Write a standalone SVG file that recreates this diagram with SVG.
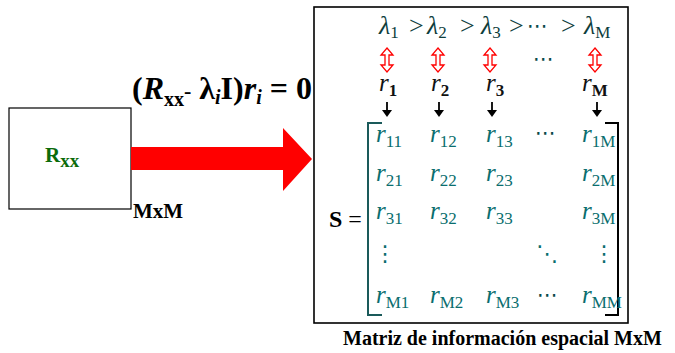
<svg xmlns="http://www.w3.org/2000/svg" width="675" height="353" viewBox="0 0 675 353">
<style>
text{font-family:"Liberation Serif","Times New Roman",serif;}
.b{font-weight:bold;}
.it{font-style:italic;}
.lam{fill:#0d3d3d;font-size:26px;}
.lsub{font-size:17px;}
.rr{fill:#111;font-size:25px;font-style:italic;}
.rsub{font-size:17px;font-weight:bold;font-style:normal;}
.m{fill:#0a6e6e;font-size:25px;font-style:italic;}
.msub{font-size:17px;font-style:normal;}
.dots{font-family:"DejaVu Sans",sans-serif;fill:#0a4a4a;}
.dd{fill:#0a6e6e;}
</style>
<defs>
<path id="dbl" d="M0,-12 L6,-5 L2,-5 L2,5 L6,5 L0,12 L-6,5 L-2,5 L-2,-5 L-6,-5 Z" fill="#fff" stroke="#ff0000" stroke-width="1.3"/>
<g id="down"><line x1="0" y1="0" x2="0" y2="9" stroke="#000" stroke-width="1.8"/><path d="M-5,8 L5,8 L0,15 Z" fill="#000"/></g>
</defs>

<g id="rxx-box">
<rect x="9" y="108" width="122" height="101" fill="#fff" stroke="#000" stroke-width="1.2"/>
<text x="45" y="162" class="b" font-size="21" fill="#0b6b0b">R<tspan font-size="19" dy="5">xx</tspan></text>
<text x="133" y="218" class="b" font-size="21" fill="#000">MxM</text>
</g>

<g id="connectors">
<polygon points="131,147 283,147 283,128 312,159 283,191 283,170 131,170" fill="#ff0000"/>
<text x="132" y="99" class="b" font-size="32" fill="#000">(<tspan class="it">R</tspan><tspan font-size="20" dy="7">xx</tspan><tspan font-size="22" dy="-8">-</tspan><tspan dy="1"> λ</tspan><tspan class="it" font-size="20" dy="5">i</tspan><tspan dy="-5">I)</tspan><tspan class="it">r</tspan><tspan class="it" font-size="20" dy="5">i</tspan><tspan dy="-5"> = 0</tspan></text>
</g>

<g id="matrix-frame">
<rect x="314" y="7" width="314" height="316" fill="#fff" stroke="#000" stroke-width="1.6"/>

<g id="lambda-row" class="lam">
<text x="379" y="34" class="it lam">λ<tspan class="lsub" font-style="normal" dy="4">1</tspan></text>
<text x="409" y="34" class="lam">&gt;</text>
<text x="427" y="34" class="it lam">λ<tspan class="lsub" font-style="normal" dy="4">2</tspan></text>
<text x="460" y="34" class="lam">&gt;</text>
<text x="481" y="34" class="it lam">λ<tspan class="lsub" font-style="normal" dy="4">3</tspan></text>
<text x="509" y="34" class="lam">&gt;</text>
<text x="527" y="33" class="dots" font-size="21">⋯</text>
<text x="561" y="34" class="lam">&gt;</text>
<text x="584" y="34" class="it lam">λ<tspan class="lsub" font-style="normal" dy="4">M</tspan></text>
</g>

<g id="double-arrows">
<use href="#dbl" x="387" y="60"/>
<use href="#dbl" x="438" y="60"/>
<use href="#dbl" x="490" y="60"/>
<use href="#dbl" x="595" y="60"/>
<text x="533" y="66" class="dots" font-size="21">⋯</text>
</g>

<g id="eigvec-row">
<text x="379" y="91" class="rr">r<tspan class="rsub" dy="5">1</tspan></text>
<text x="431" y="91" class="rr">r<tspan class="rsub" dy="5">2</tspan></text>
<text x="486" y="91" class="rr">r<tspan class="rsub" dy="5">3</tspan></text>
<text x="582" y="91" class="rr">r<tspan class="rsub" dy="5">M</tspan></text>
<use href="#down" x="387" y="102"/>
<use href="#down" x="439" y="102"/>
<use href="#down" x="492" y="102"/>
<use href="#down" x="597" y="102"/>
</g>

<g id="matrix">
<text x="329" y="227" class="b" font-size="24" fill="#000">S <tspan font-weight="normal">=</tspan></text>
<path d="M382,123 L368,123 L368,315 L382,315" fill="none" stroke="#1a5a5a" stroke-width="2"/>
<path d="M605,123 L618,123 L618,315 L605,315" fill="none" stroke="#000" stroke-width="2"/>

<text x="376" y="142" class="m">r<tspan class="msub" dy="5">11</tspan></text>
<text x="430" y="142" class="m">r<tspan class="msub" dy="5">12</tspan></text>
<text x="486" y="142" class="m">r<tspan class="msub" dy="5">13</tspan></text>
<text x="535" y="140" class="dots" font-size="21">⋯</text>
<text x="582" y="142" class="m">r<tspan class="msub" dy="5">1M</tspan></text>

<text x="376" y="181" class="m">r<tspan class="msub" dy="5">21</tspan></text>
<text x="430" y="181" class="m">r<tspan class="msub" dy="5">22</tspan></text>
<text x="486" y="181" class="m">r<tspan class="msub" dy="5">23</tspan></text>
<text x="582" y="181" class="m">r<tspan class="msub" dy="5">2M</tspan></text>

<text x="376" y="219" class="m">r<tspan class="msub" dy="5">31</tspan></text>
<text x="430" y="219" class="m">r<tspan class="msub" dy="5">32</tspan></text>
<text x="486" y="219" class="m">r<tspan class="msub" dy="5">33</tspan></text>
<text x="582" y="219" class="m">r<tspan class="msub" dy="5">3M</tspan></text>

<text x="374" y="261" class="dots dd" font-size="22">⋮</text>
<text x="536" y="261" class="dots dd" font-size="22">⋱</text>
<text x="593" y="261" class="dots dd" font-size="22">⋮</text>

<text x="376" y="303" class="m">r<tspan class="msub" dy="5">M1</tspan></text>
<text x="430" y="303" class="m">r<tspan class="msub" dy="5">M2</tspan></text>
<text x="486" y="303" class="m">r<tspan class="msub" dy="5">M3</tspan></text>
<text x="537" y="302" class="dots" font-size="21">⋯</text>
<text x="582" y="303" class="m">r<tspan class="msub" dy="5">MM</tspan></text>
</g>
</g>

<text x="343" y="345" class="b" font-size="20" fill="#000">Matriz de información espacial MxM</text>
</svg>
